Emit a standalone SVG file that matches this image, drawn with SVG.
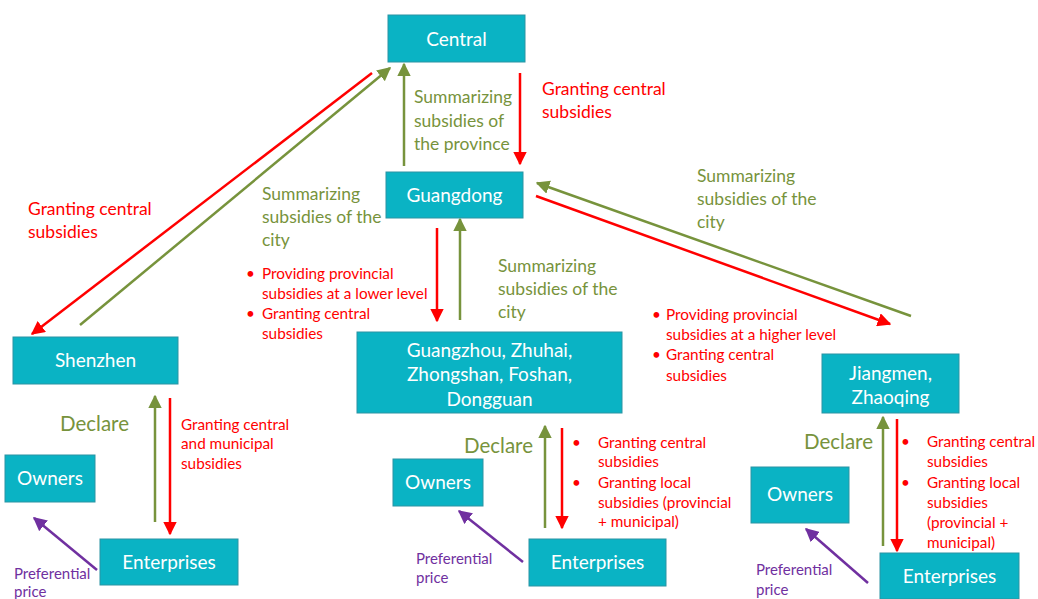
<svg xmlns="http://www.w3.org/2000/svg" width="1038" height="599" viewBox="0 0 1038 599">
  <style>
    .box { fill: #0AB3C4; stroke: #2A94A3; stroke-width: 1; }
    .bt { font-family: Lato, "Open Sans", sans-serif; font-size: 19px; fill: #ffffff; text-anchor: middle; }
    .g { font-family: Lato, "Open Sans", sans-serif; font-size: 17.5px; fill: #77933C; }
    .r { font-family: Lato, "Open Sans", sans-serif; font-size: 17.5px; fill: #FF0000; }
    .rs { font-family: Lato, "Open Sans", sans-serif; font-size: 15.3px; fill: #FF0000; }
    .p { font-family: Lato, "Open Sans", sans-serif; font-size: 15px; fill: #7030A0; }
    .dec { font-family: Lato, "Open Sans", sans-serif; font-size: 20.5px; fill: #77933C; }
    .lg { stroke: #77933C; stroke-width: 2.5; fill: none; }
    .lr { stroke: #FF0000; stroke-width: 2.5; fill: none; }
    .lp { stroke: #7030A0; stroke-width: 2.5; fill: none; }
  </style>
  <defs>
    <marker id="ag" viewBox="0 0 10 10" refX="9" refY="5" markerWidth="5.5" markerHeight="5.5" orient="auto" markerUnits="strokeWidth">
      <path d="M0,0 L10,5 L0,10 z" fill="#77933C"/>
    </marker>
    <marker id="ar" viewBox="0 0 10 10" refX="9" refY="5" markerWidth="5.5" markerHeight="5.5" orient="auto" markerUnits="strokeWidth">
      <path d="M0,0 L10,5 L0,10 z" fill="#FF0000"/>
    </marker>
    <marker id="ap" viewBox="0 0 10 10" refX="9" refY="5" markerWidth="5.5" markerHeight="5.5" orient="auto" markerUnits="strokeWidth">
      <path d="M0,0 L10,5 L0,10 z" fill="#7030A0"/>
    </marker>
  </defs>

  <rect width="1038" height="599" fill="#ffffff"/>

  <g id="connectors">
    <line class="lg" x1="404" y1="166" x2="404" y2="64" marker-end="url(#ag)"/>
    <line class="lr" x1="520" y1="73" x2="520" y2="164" marker-end="url(#ar)"/>
    <line class="lr" x1="372" y1="73" x2="32" y2="334" marker-end="url(#ar)"/>
    <line class="lg" x1="80" y1="325" x2="390" y2="68" marker-end="url(#ag)"/>
    <line class="lg" x1="911" y1="316" x2="537" y2="183" marker-end="url(#ag)"/>
    <line class="lr" x1="536" y1="196" x2="890" y2="324" marker-end="url(#ar)"/>
    <line class="lr" x1="437" y1="228" x2="437" y2="321" marker-end="url(#ar)"/>
    <line class="lg" x1="460" y1="320" x2="460" y2="219" marker-end="url(#ag)"/>
    <line class="lg" x1="155" y1="522" x2="155" y2="396" marker-end="url(#ag)"/>
    <line class="lr" x1="170" y1="398" x2="170" y2="534" marker-end="url(#ar)"/>
    <line class="lp" x1="97" y1="570" x2="34" y2="518" marker-end="url(#ap)"/>
    <line class="lg" x1="545" y1="528" x2="545" y2="426" marker-end="url(#ag)"/>
    <line class="lr" x1="562" y1="428" x2="562" y2="528" marker-end="url(#ar)"/>
    <line class="lp" x1="523" y1="562" x2="459" y2="511" marker-end="url(#ap)"/>
    <line class="lg" x1="883" y1="546" x2="883" y2="417" marker-end="url(#ag)"/>
    <line class="lr" x1="897" y1="419" x2="897" y2="551" marker-end="url(#ar)"/>
    <line class="lp" x1="868" y1="583" x2="806" y2="529" marker-end="url(#ap)"/>
  </g>

  <g id="central">
    <rect class="box" x="388" y="15" width="137" height="47"/>
    <text class="bt" x="456.5" y="46">Central</text>
  </g>
  <g id="guangdong">
    <rect class="box" x="386" y="172" width="137" height="46"/>
    <text class="bt" x="454.5" y="202">Guangdong</text>
  </g>
  <g id="shenzhen">
    <rect class="box" x="13" y="337" width="165" height="47"/>
    <text class="bt" x="95.5" y="367">Shenzhen</text>
  </g>
  <g id="guangzhou-group">
    <rect class="box" x="357" y="332" width="265" height="81"/>
    <text class="bt" x="489.5" y="357">Guangzhou, Zhuhai,</text>
    <text class="bt" x="489.5" y="381">Zhongshan, Foshan,</text>
    <text class="bt" x="489.5" y="406">Dongguan</text>
  </g>
  <g id="jiangmen-zhaoqing">
    <rect class="box" x="822" y="354" width="137" height="59"/>
    <text class="bt" x="890.5" y="380">Jiangmen,</text>
    <text class="bt" x="890.5" y="404">Zhaoqing</text>
  </g>
  <g id="owners-left">
    <rect class="box" x="5" y="455" width="90" height="47"/>
    <text class="bt" x="50" y="485">Owners</text>
  </g>
  <g id="enterprises-left">
    <rect class="box" x="100" y="539" width="138" height="46"/>
    <text class="bt" x="169" y="569">Enterprises</text>
  </g>
  <g id="owners-middle">
    <rect class="box" x="393" y="459" width="90" height="47"/>
    <text class="bt" x="438" y="489">Owners</text>
  </g>
  <g id="enterprises-middle">
    <rect class="box" x="529" y="539" width="137" height="47"/>
    <text class="bt" x="597.5" y="569">Enterprises</text>
  </g>
  <g id="owners-right">
    <rect class="box" x="751" y="467" width="98" height="56"/>
    <text class="bt" x="800" y="501">Owners</text>
  </g>
  <g id="enterprises-right">
    <rect class="box" x="880" y="553" width="139" height="46"/>
    <text class="bt" x="949.5" y="583">Enterprises</text>
  </g>

  <g id="labels">
    <text class="r" x="542" y="95">Granting central</text>
    <text class="r" x="542" y="118">subsidies</text>

    <text class="g" x="414" y="103">Summarizing</text>
    <text class="g" x="414" y="127">subsidies of</text>
    <text class="g" x="414" y="150">the province</text>

    <text class="r" x="28" y="215">Granting central</text>
    <text class="r" x="28" y="238">subsidies</text>

    <text class="g" x="262" y="200">Summarizing</text>
    <text class="g" x="262" y="223">subsidies of the</text>
    <text class="g" x="262" y="246">city</text>

    <text class="rs" x="246" y="279">•</text>
    <text class="rs" x="262" y="279">Providing provincial</text>
    <text class="rs" x="262" y="299">subsidies at a lower level</text>
    <text class="rs" x="246" y="319">•</text>
    <text class="rs" x="262" y="319">Granting central</text>
    <text class="rs" x="262" y="339">subsidies</text>

    <text class="g" x="498" y="272">Summarizing</text>
    <text class="g" x="498" y="295">subsidies of the</text>
    <text class="g" x="498" y="318">city</text>

    <text class="g" x="697" y="182">Summarizing</text>
    <text class="g" x="697" y="205">subsidies of the</text>
    <text class="g" x="697" y="228">city</text>

    <text class="rs" x="652" y="320">•</text>
    <text class="rs" x="666" y="320">Providing provincial</text>
    <text class="rs" x="666" y="340">subsidies at a higher level</text>
    <text class="rs" x="652" y="360">•</text>
    <text class="rs" x="666" y="360">Granting central</text>
    <text class="rs" x="666" y="381">subsidies</text>

    <text class="dec" x="60" y="431">Declare</text>
    <text class="rs" x="181" y="430">Granting central</text>
    <text class="rs" x="181" y="449">and municipal</text>
    <text class="rs" x="181" y="469">subsidies</text>

    <text class="dec" x="464" y="453">Declare</text>
    <text class="rs" x="572" y="448">•</text>
    <text class="rs" x="598" y="448">Granting central</text>
    <text class="rs" x="598" y="467">subsidies</text>
    <text class="rs" x="572" y="488">•</text>
    <text class="rs" x="598" y="488">Granting local</text>
    <text class="rs" x="598" y="508">subsidies (provincial</text>
    <text class="rs" x="598" y="527">+ municipal)</text>

    <text class="dec" x="804" y="449">Declare</text>
    <text class="rs" x="901" y="447">•</text>
    <text class="rs" x="927" y="447">Granting central</text>
    <text class="rs" x="927" y="467">subsidies</text>
    <text class="rs" x="901" y="488">•</text>
    <text class="rs" x="927" y="488">Granting local</text>
    <text class="rs" x="927" y="508">subsidies</text>
    <text class="rs" x="927" y="528">(provincial +</text>
    <text class="rs" x="927" y="548">municipal)</text>

    <text class="p" x="14" y="579">Preferential</text>
    <text class="p" x="14" y="597">price</text>
    <text class="p" x="416" y="564">Preferential</text>
    <text class="p" x="416" y="583">price</text>
    <text class="p" x="756" y="575">Preferential</text>
    <text class="p" x="756" y="595">price</text>
  </g>
</svg>
